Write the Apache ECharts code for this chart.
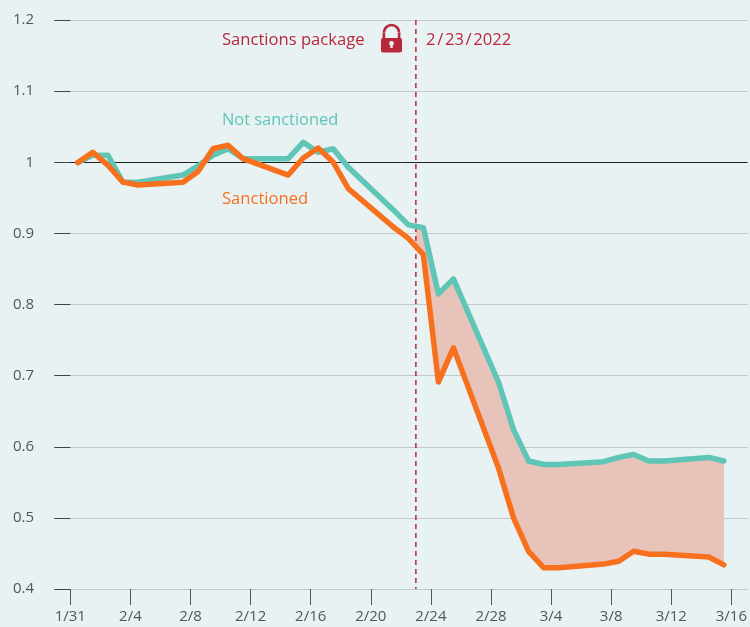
<!DOCTYPE html>
<html><head><meta charset="utf-8">
<style>html,body{margin:0;padding:0;background:#E8F2F3}#c{width:750px;height:627px}</style>
<script src="https://cdn.jsdelivr.net/npm/echarts@6/dist/echarts.min.js"></script>
</head><body><div id="c"></div>
<script>
const dates = ['1/31','2/1','2/2','2/3','2/4','2/7','2/8','2/9','2/10','2/11','2/14','2/15','2/16','2/17','2/18','2/21','2/22','2/23','2/24','2/25','2/28','3/1','3/2','3/3','3/4','3/7','3/8','3/9','3/10','3/11','3/14','3/15'];
const notSanctioned = [0.9996,1.01,1.01,0.972,0.972,0.982,0.995,1.01,1.019,1.005,1.005,1.028,1.014,1.019,0.993,0.933,0.912,0.908,0.815,0.836,0.691,0.624,0.58,0.575,0.575,0.579,0.585,0.589,0.58,0.58,0.585,0.58];
const sanctioned = [0.9996,1.014,0.996,0.972,0.968,0.972,0.987,1.019,1.024,1.005,0.982,1.006,1.02,1.0,0.963,0.909,0.893,0.87,0.691,0.739,0.57,0.5,0.453,0.43,0.43,0.435,0.439,0.453,0.449,0.449,0.445,0.434];
const xTickLabels = ['1/31','2/4','2/8','2/12','2/16','2/20','2/24','2/28','3/4','3/8','3/12','3/16'];
const yTicks = [0.4,0.5,0.6,0.7,0.8,0.9,1,1.1,1.2];
const eventDate = '2/23';
const gapAtEvent = [0.909, 0.881];

const dayOf = s => { const [m,d] = s.split('/').map(Number); return m===1 ? d-31 : m===2 ? d : 28+d; };
const tickDays = xTickLabels.map(dayOf);
const eventDay = dayOf(eventDate);
// Each daily point sits in the middle of its day's band; ticks mark the band starts.
const pos = s => dayOf(s) + 0.5;
const pairs = arr => dates.map((d,i)=>[pos(d),arr[i]]);
const FONT = '"Open Sans"';
const RED = '#B8273C', TEAL = '#5FC5B7', ORANGE = '#F7701E', BG = '#E8F2F3';
const fillIdx = dates.map((d,i)=>i).filter(i=>pos(dates[i])>eventDay);

const chart = echarts.init(document.getElementById('c'),null,{renderer:'canvas'});
chart.setOption({
  animation:false,
  backgroundColor:BG,
  grid:{left:55,right:2,top:20,bottom:38,containLabel:false},
  xAxis:{type:'value',min:-1.02,max:45.08,splitLine:{show:false},
    axisLine:{show:true,onZero:false,lineStyle:{color:'#C3C8CA',width:1}},
    axisTick:{show:true,customValues:tickDays,length:16,lineStyle:{color:'#555',width:1}},
    axisLabel:{customValues:tickDays,margin:20,color:'#555',fontFamily:FONT,fontSize:15,
      formatter:v=>xTickLabels[tickDays.indexOf(v)]}},
  yAxis:{type:'value',min:0.4,max:1.2,interval:0.1,
    axisLine:{show:false},
    axisTick:{show:true,length:16,lineStyle:{color:'#444',width:1}},
    axisLabel:{margin:21,color:'#555',fontFamily:FONT,fontSize:15,formatter:v=>String(+v.toFixed(1))},
    splitLine:{show:true,lineStyle:{width:1,color:yTicks.map(t=>t===1?'#222':'#C3C8CA')}}},
  graphic:[
    {type:'text',x:222,y:32,style:{text:'Sanctions package',fill:RED,font:'16.6px '+FONT}},
    {type:'text',x:426,y:32,style:{text:'2\u200A/\u200A23\u200A/\u200A2022',fill:RED,font:'16.6px '+FONT}},
    {type:'text',x:222,y:112,style:{text:'Not sanctioned',fill:TEAL,font:'16.4px '+FONT}},
    {type:'text',x:222,y:191,style:{text:'Sanctioned',fill:ORANGE,font:'16.6px '+FONT}},
    {type:'group',x:381,y:24,children:[
      {type:'arc',shape:{cx:10.5,cy:8.6,r:7.6,startAngle:Math.PI,endAngle:0,clockwise:true},style:{fill:'none',stroke:RED,lineWidth:2.6}},
      {type:'line',shape:{x1:2.9,y1:8.6,x2:2.9,y2:15},style:{stroke:RED,lineWidth:2.6}},
      {type:'line',shape:{x1:18.1,y1:8.6,x2:18.1,y2:15},style:{stroke:RED,lineWidth:2.6}},
      {type:'rect',shape:{x:0,y:14,width:21,height:14.5,r:2},style:{fill:RED}},
      {type:'circle',shape:{cx:10.5,cy:19.5,r:2.4},style:{fill:BG}},
      {type:'polygon',shape:{points:[[9.6,20],[11.4,20],[11.8,24],[9.2,24]]},style:{fill:BG}}
    ]}
  ],
  series:[
    {type:'custom',z:1,silent:true,clip:false,data:[0],
      renderItem:(p,api)=>{
        const top=[[eventDay,gapAtEvent[0]]].concat(fillIdx.map(i=>[pos(dates[i]),notSanctioned[i]]));
        const bot=fillIdx.map(i=>[pos(dates[i]),sanctioned[i]]).reverse().concat([[eventDay,gapAtEvent[1]]]);
        return {type:'polygon',shape:{points:top.concat(bot).map(c=>api.coord(c))},style:{fill:'#E8C3B9'}};
      }},
    {type:'line',z:2,symbol:'none',silent:true,data:[[eventDay,1.2],[eventDay,0.4]],
      lineStyle:{color:RED,width:1.5,type:[5,4]}},
    {type:'line',z:3,name:'Not sanctioned',symbol:'none',data:pairs(notSanctioned),
      lineStyle:{color:TEAL,width:5.5,cap:'round',join:'round'}},
    {type:'line',z:4,name:'Sanctioned',symbol:'none',data:pairs(sanctioned),
      lineStyle:{color:ORANGE,width:5.5,cap:'round',join:'round'}}
  ]
});
</script></body></html>
